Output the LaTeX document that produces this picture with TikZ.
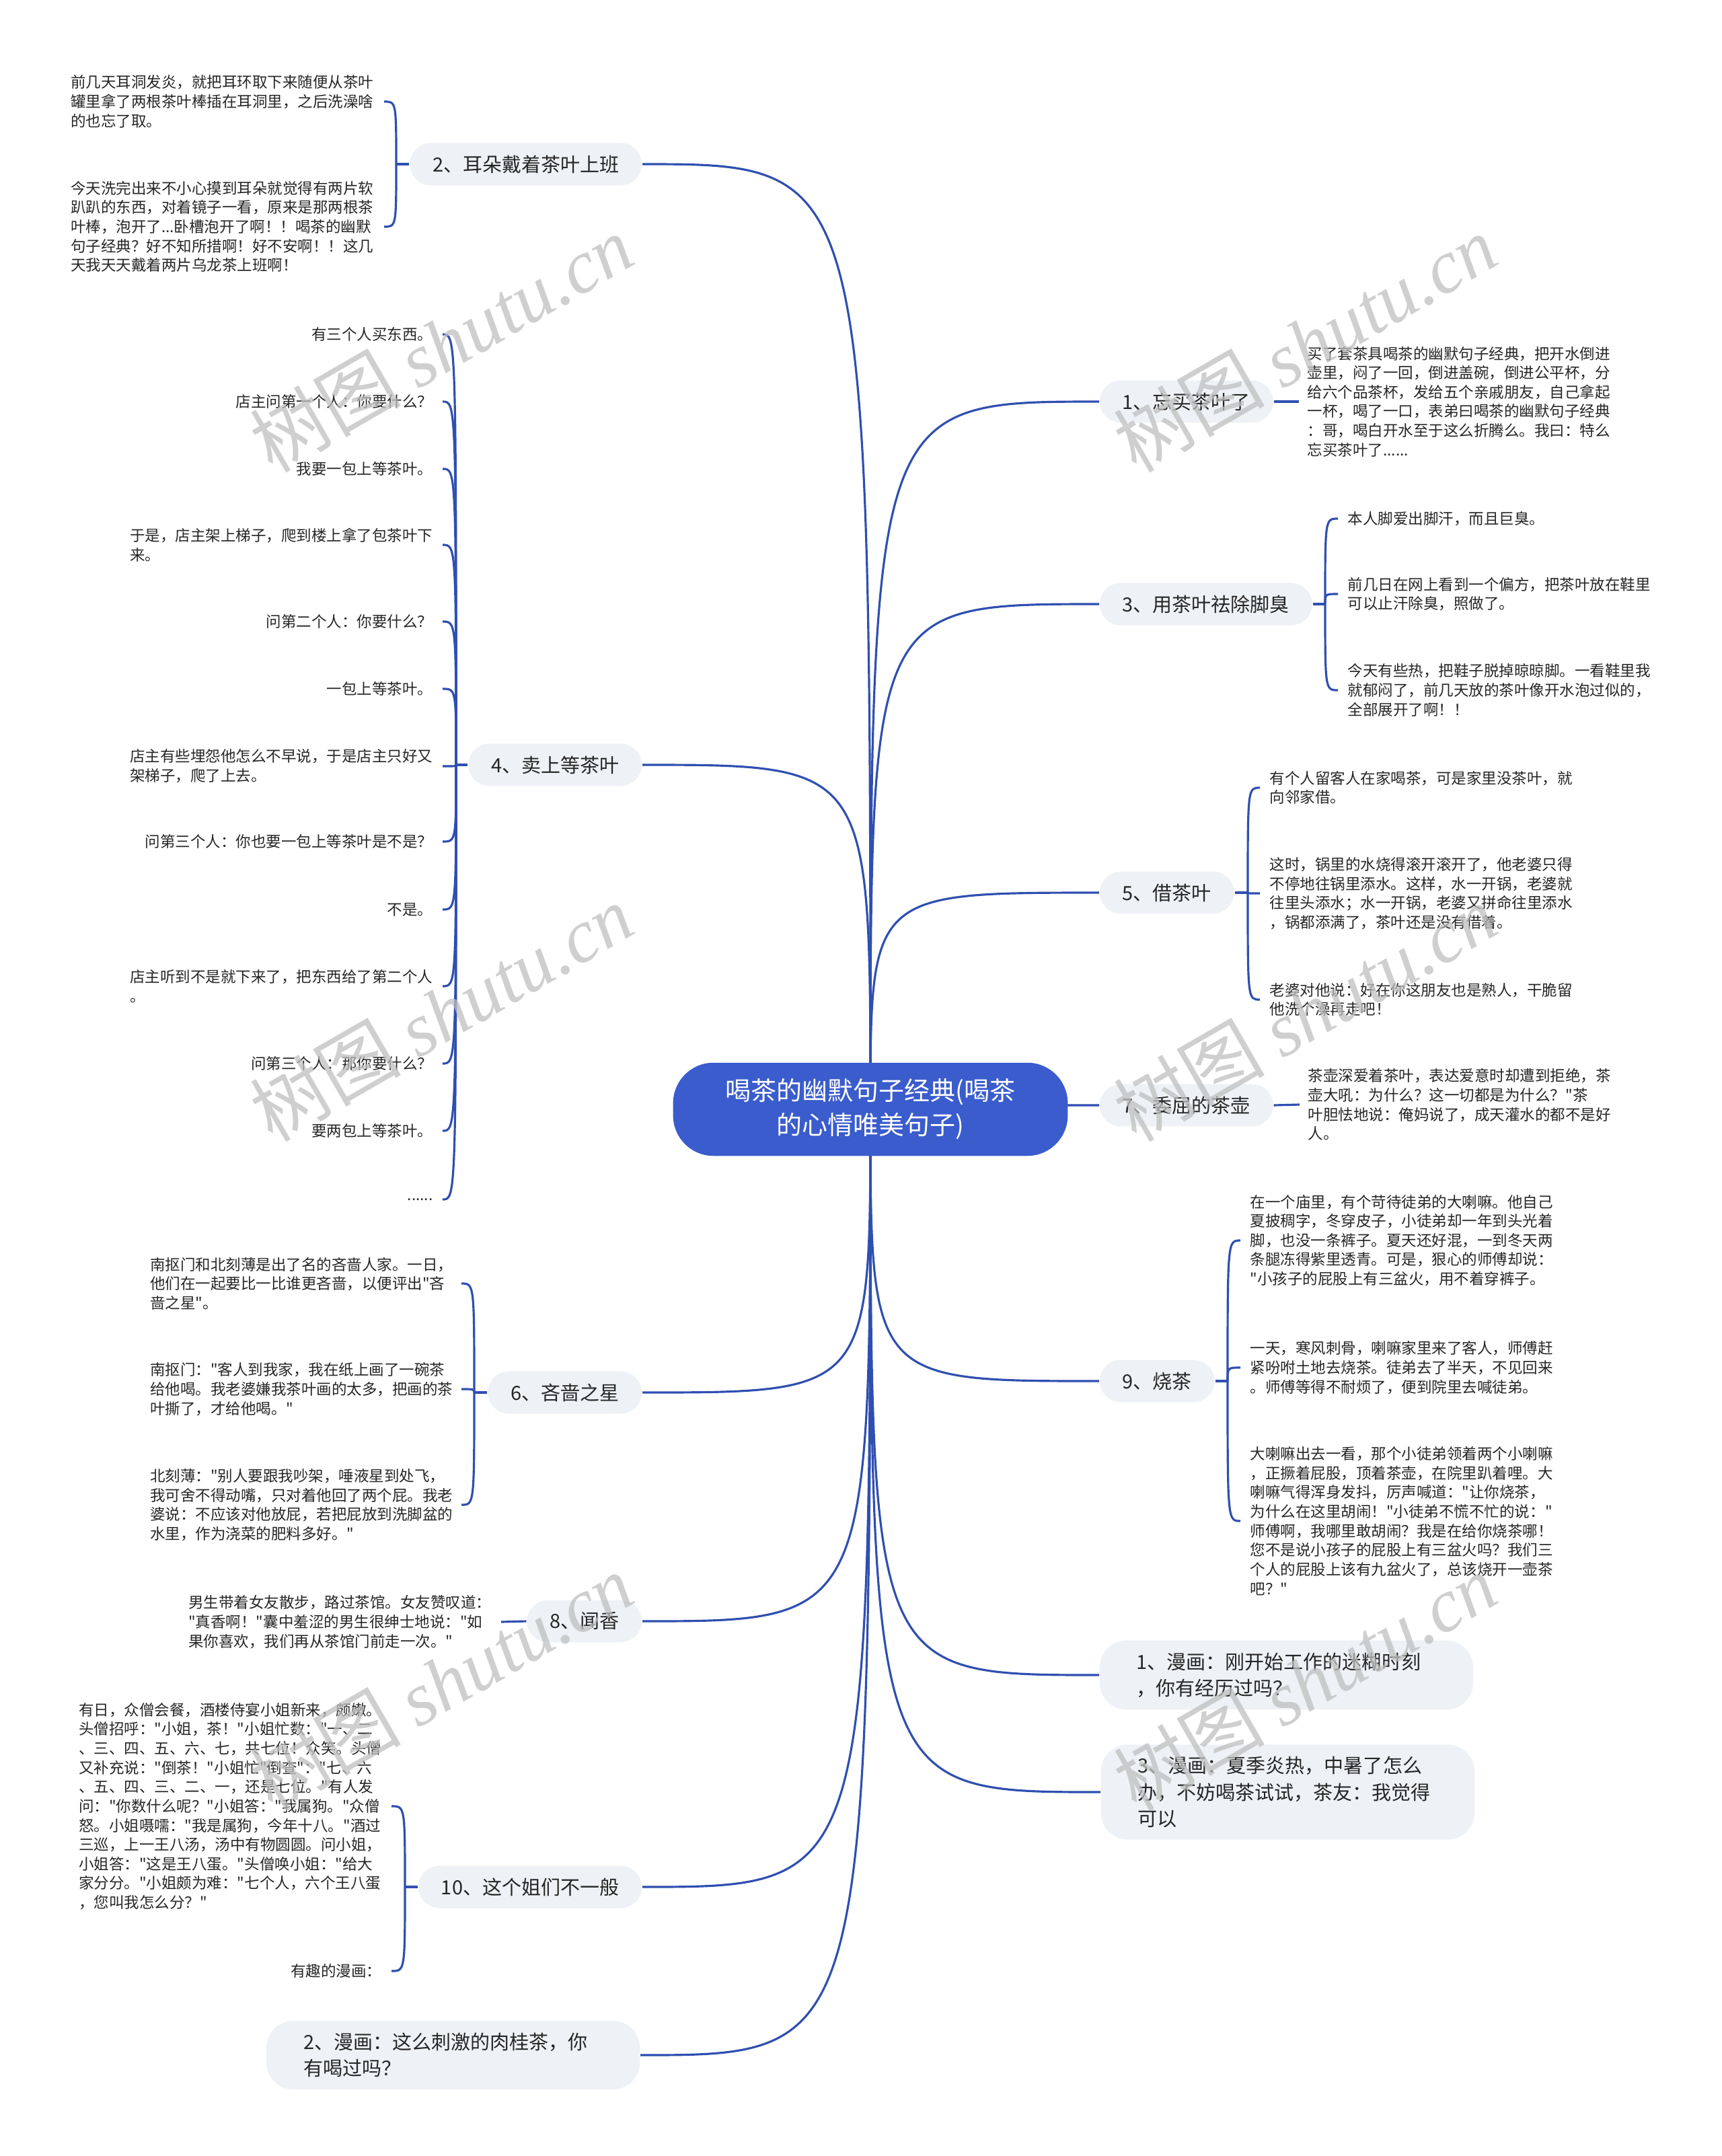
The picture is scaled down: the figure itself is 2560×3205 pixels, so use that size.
\documentclass[tikz,border=0pt]{standalone}
\usepackage{fontspec}
\newfontfamily\cjkfont{Noto Sans CJK SC}
\newfontfamily\wmserif{Liberation Serif}
\usetikzlibrary{backgrounds}
\definecolor{linkblue}{HTML}{2F4FB0}
\definecolor{rootblue}{HTML}{3A5CCC}
\definecolor{pillgray}{HTML}{EEF1F5}
\definecolor{inkgray}{HTML}{262626}
\newcommand{\leaffont}{\cjkfont\fontsize{6.4pt}{8.14pt}\selectfont}
\newcommand{\branchfont}{\cjkfont\fontsize{8.25pt}{11.1pt}\selectfont}
\newcommand{\rootfont}{\cjkfont\fontsize{10.8pt}{14.5pt}\selectfont}

\begin{document}
\begin{tikzpicture}[x=0.01cm, y=0.01cm,
    root/.style={fill=rootblue, text=white, font=\rootfont, align=center,
                 rounded corners=0.6cm, inner xsep=0.78cm, inner ysep=0.24cm},
    branch/.style={fill=pillgray, text=inkgray, font=\branchfont,
                   rounded corners=0.32cm, inner xsep=0.34cm, inner ysep=0.18cm},
    cartoon/.style={branch, align=left, text width=4.45cm, inner xsep=0.55cm,
                    rounded corners=0.4cm},
    leaf/.style={font=\leaffont, text=inkgray, align=left, inner sep=0pt},
    link/.style={draw=linkblue, line width=0.9pt},
    wmark/.style={rotate=30, text=black!25, opacity=0.75,
                  font=\cjkfont\fontsize{32pt}{32pt}\selectfont}]
  \useasboundingbox (0,0) rectangle (2560,-3205);

  \node[root] (c) at (1294,-1649) {喝茶的幽默句子经典(喝茶\\的心情唯美句子)};

  % right side
  \node[branch, anchor=west] (b1) at (1634,-597) {1、忘买茶叶了};
  \node[branch, anchor=west] (b3) at (1634,-898) {3、用茶叶祛除脚臭};
  \node[branch, anchor=west] (b5) at (1634,-1327) {5、借茶叶};
  \node[branch, anchor=west] (b7) at (1634,-1643) {7、委屈的茶壶};
  \node[branch, anchor=west] (b9) at (1634,-2053) {9、烧茶};
  \node[cartoon, anchor=west] (m1) at (1634,-2490)
    {1、漫画：刚开始工作的迷糊时刻\\，你有经历过吗？};
  \node[cartoon, anchor=west] (m3) at (1636,-2664)
    {3、漫画：夏季炎热，中暑了怎么\\办，不妨喝茶试试，茶友：我觉得\\可以};

  % left side
  \node[branch, anchor=east] (b2) at (955,-244) {2、耳朵戴着茶叶上班};
  \node[branch, anchor=east] (b4) at (955,-1137) {4、卖上等茶叶};
  \node[branch, anchor=east] (b6) at (955,-2070) {6、吝啬之星};
  \node[branch, anchor=east] (b8) at (955,-2410) {8、闻香};
  \node[branch, anchor=east] (b10) at (955,-2805) {10、这个姐们不一般};
  \node[cartoon, anchor=east] (m2) at (952,-3055)
    {2、漫画：这么刺激的肉桂茶，你\\有喝过吗？};

  \begin{scope}[on background layer]
    \fill[white] (0,0) rectangle (2560,-3205);
    \foreach \b in {b2,b4,b6,b8,b10,m2}
      \draw[link] (c.center) .. controls (c.center |- \b.east) .. (\b.east);
    \foreach \b in {b1,b3,b5,b7,b9,m1,m3}
      \draw[link] (c.center) .. controls (c.center |- \b.west) .. (\b.west);
  \end{scope}

  % 1
  \node[leaf, anchor=west] (l1) at (1943,-597)
    {买了套茶具喝茶的幽默句子经典，把开水倒进\\
     壶里，闷了一回，倒进盖碗，倒进公平杯，分\\
     给六个品茶杯，发给五个亲戚朋友，自己拿起\\
     一杯，喝了一口，表弟曰喝茶的幽默句子经典\\
     ：哥，喝白开水至于这么折腾么。我曰：特么\\
     忘买茶叶了......};
  \draw[link] (b1.east) -- ([xshift=-0.12cm]l1.west);

  % 3
  \coordinate (j3) at (1970,-898);
  \node[leaf, anchor=west] (l3a) at (2003,-771) {本人脚爱出脚汗，而且巨臭。};
  \node[leaf, anchor=west] (l3b) at (2003,-883)
    {前几日在网上看到一个偏方，把茶叶放在鞋里\\可以止汗除臭，照做了。};
  \node[leaf, anchor=west] (l3c) at (2003,-1026)
    {今天有些热，把鞋子脱掉晾晾脚。一看鞋里我\\
     就郁闷了，前几天放的茶叶像开水泡过似的，\\
     全部展开了啊！！};
  \draw[link] (b3.east) -- (j3);
  \foreach \n in {l3a,l3b,l3c}
    \draw[link] (j3) .. controls (j3 |- \n.west) .. ([xshift=-0.14cm]\n.west);

  % 5
  \coordinate (j5) at (1855,-1327);
  \node[leaf, anchor=west] (l5a) at (1887,-1171)
    {有个人留客人在家喝茶，可是家里没茶叶，就\\向邻家借。};
  \node[leaf, anchor=west] (l5b) at (1887,-1328)
    {这时，锅里的水烧得滚开滚开了，他老婆只得\\
     不停地往锅里添水。这样，水一开锅，老婆就\\
     往里头添水；水一开锅，老婆又拼命往里添水\\
     ，锅都添满了，茶叶还是没有借着。};
  \node[leaf, anchor=west] (l5c) at (1887,-1486)
    {老婆对他说：好在你这朋友也是熟人，干脆留\\他洗个澡再走吧！};
  \draw[link] (b5.east) -- (j5);
  \foreach \n in {l5a,l5b,l5c}
    \draw[link] (j5) .. controls (j5 |- \n.west) .. ([xshift=-0.14cm]\n.west);

  % 7
  \node[leaf, anchor=west] (l7) at (1944,-1642)
    {茶壶深爱着茶叶，表达爱意时却遭到拒绝，茶\\
     壶大吼：为什么？这一切都是为什么？"茶\\
     叶胆怯地说：俺妈说了，成天灌水的都不是好\\
     人。};
  \draw[link] (b7.east) -- ([xshift=-0.12cm]l7.west);

  % 9
  \coordinate (j9) at (1825,-2053);
  \node[leaf, anchor=west] (l9a) at (1858,-1844)
    {在一个庙里，有个苛待徒弟的大喇嘛。他自己\\
     夏披稠字，冬穿皮子，小徒弟却一年到头光着\\
     脚，也没一条裤子。夏天还好混，一到冬天两\\
     条腿冻得紫里透青。可是，狠心的师傅却说：\\
     "小孩子的屁股上有三盆火，用不着穿裤子。};
  \node[leaf, anchor=west] (l9b) at (1858,-2033)
    {一天，寒风刺骨，喇嘛家里来了客人，师傅赶\\
     紧吩咐土地去烧茶。徒弟去了半天，不见回来\\
     。师傅等得不耐烦了，便到院里去喊徒弟。};
  \node[leaf, anchor=west] (l9c) at (1858,-2261)
    {大喇嘛出去一看，那个小徒弟领着两个小喇嘛\\
     ，正撅着屁股，顶着茶壶，在院里趴着哩。大\\
     喇嘛气得浑身发抖，厉声喊道："让你烧茶，\\
     为什么在这里胡闹！"小徒弟不慌不忙的说："\\
     师傅啊，我哪里敢胡闹？我是在给你烧茶哪！\\
     您不是说小孩子的屁股上有三盆火吗？我们三\\
     个人的屁股上该有九盆火了，总该烧开一壶茶\\
     吧？"};
  \draw[link] (b9.east) -- (j9);
  \foreach \n in {l9a,l9b,l9c}
    \draw[link] (j9) .. controls (j9 |- \n.west) .. ([xshift=-0.14cm]\n.west);

  % 2
  \coordinate (j2) at (589,-244);
  \node[leaf, anchor=east] (l2a) at (556,-151)
    {前几天耳洞发炎，就把耳环取下来随便从茶叶\\
     罐里拿了两根茶叶棒插在耳洞里，之后洗澡啥\\
     的也忘了取。};
  \node[leaf, anchor=east] (l2b) at (556,-337)
    {今天洗完出来不小心摸到耳朵就觉得有两片软\\
     趴趴的东西，对着镜子一看，原来是那两根茶\\
     叶棒，泡开了...卧槽泡开了啊！！喝茶的幽默\\
     句子经典？好不知所措啊！好不安啊！！这几\\
     天我天天戴着两片乌龙茶上班啊！};
  \draw[link] (b2.west) -- (j2);
  \foreach \n in {l2a,l2b}
    \draw[link] (j2) .. controls (j2 |- \n.east) .. ([xshift=0.15cm]\n.east);

  % 4
  \coordinate (j4) at (678,-1137);
  \node[leaf, anchor=east] (l4a) at (644,-497) {有三个人买东西。};
  \node[leaf, anchor=east] (l4b) at (644,-597) {店主问第一个人：你要什么？};
  \node[leaf, anchor=east] (l4c) at (644,-697) {我要一包上等茶叶。};
  \node[leaf, anchor=east] (l4d) at (644,-810)
    {于是，店主架上梯子，爬到楼上拿了包茶叶下\\来。};
  \node[leaf, anchor=east] (l4e) at (644,-924) {问第二个人：你要什么？};
  \node[leaf, anchor=east] (l4f) at (644,-1024) {一包上等茶叶。};
  \node[leaf, anchor=east] (l4g) at (644,-1139)
    {店主有些埋怨他怎么不早说，于是店主只好又\\架梯子，爬了上去。};
  \node[leaf, anchor=east] (l4h) at (644,-1251) {问第三个人：你也要一包上等茶叶是不是？};
  \node[leaf, anchor=east] (l4i) at (644,-1352) {不是。};
  \node[leaf, anchor=east] (l4j) at (644,-1466)
    {店主听到不是就下来了，把东西给了第二个人\\。};
  \node[leaf, anchor=east] (l4k) at (644,-1581) {问第三个人：那你要什么？};
  \node[leaf, anchor=east] (l4l) at (644,-1681) {要两包上等茶叶。};
  \node[leaf, anchor=east] (l4m) at (644,-1783) {......};
  \draw[link] (b4.west) -- (j4);
  \foreach \n in {l4a,l4b,l4c,l4d,l4e,l4f,l4g,l4h,l4i,l4j,l4k,l4l,l4m}
    \draw[link] (j4) .. controls (j4 |- \n.east) .. ([xshift=0.14cm]\n.east);

  % 6
  \coordinate (j6) at (705,-2070);
  \node[leaf, anchor=east] (l6a) at (674,-1908)
    {南抠门和北刻薄是出了名的吝啬人家。一日，\\
     他们在一起要比一比谁更吝啬，以便评出"吝\\
     啬之星"。};
  \node[leaf, anchor=east] (l6b) at (674,-2065)
    {南抠门："客人到我家，我在纸上画了一碗茶\\
     给他喝。我老婆嫌我茶叶画的太多，把画的茶\\
     叶撕了，才给他喝。"};
  \node[leaf, anchor=east] (l6c) at (674,-2237)
    {北刻薄："别人要跟我吵架，唾液星到处飞，\\
     我可舍不得动嘴，只对着他回了两个屁。我老\\
     婆说：不应该对他放屁，若把屁放到洗脚盆的\\
     水里，作为浇菜的肥料多好。"};
  \draw[link] (b6.west) -- (j6);
  \foreach \n in {l6a,l6b,l6c}
    \draw[link] (j6) .. controls (j6 |- \n.east) .. ([xshift=0.12cm]\n.east);

  % 8
  \node[leaf, anchor=east] (l8) at (731,-2411)
    {男生带着女友散步，路过茶馆。女友赞叹道：\\
     "真香啊！"囊中羞涩的男生很绅士地说："如\\
     果你喜欢，我们再从茶馆门前走一次。"};
  \draw[link] (b8.west) -- ([xshift=0.14cm]l8.east);

  % 10
  \coordinate (j10) at (602,-2805);
  \node[leaf, anchor=east] (l10a) at (568,-2685)
    {有日，众僧会餐，酒楼侍宴小姐新来，颇嫩。\\
     头僧招呼："小姐，茶！"小姐忙数："一、二\\
     、三、四、五、六、七，共七位！众笑。头僧\\
     又补充说："倒茶！"小姐忙"倒查"："七、六\\
     、五、四、三、二、一，还是七位。"有人发\\
     问："你数什么呢？"小姐答："我属狗。"众僧\\
     怒。小姐嗫嚅："我是属狗，今年十八。"酒过\\
     三巡，上一王八汤，汤中有物圆圆。问小姐，\\
     小姐答："这是王八蛋。"头僧唤小姐："给大\\
     家分分。"小姐颇为难："七个人，六个王八蛋\\
     ，您叫我怎么分？"};
  \node[leaf, anchor=east] (l10b) at (568,-2930) {有趣的漫画：};
  \draw[link] (b10.west) -- (j10);
  \foreach \n in {l10a,l10b}
    \draw[link] (j10) .. controls (j10 |- \n.east) .. ([xshift=0.14cm]\n.east);

  % watermarks
  \foreach \x/\y in {656/510, 1940/510, 656/1505, 1940/1505, 656/2500, 1940/2500}
    \node[wmark] (wm-\x-\y) at (\x,-\y) {树图 {\wmserif\itshape shutu.cn}};
\end{tikzpicture}
\end{document}
